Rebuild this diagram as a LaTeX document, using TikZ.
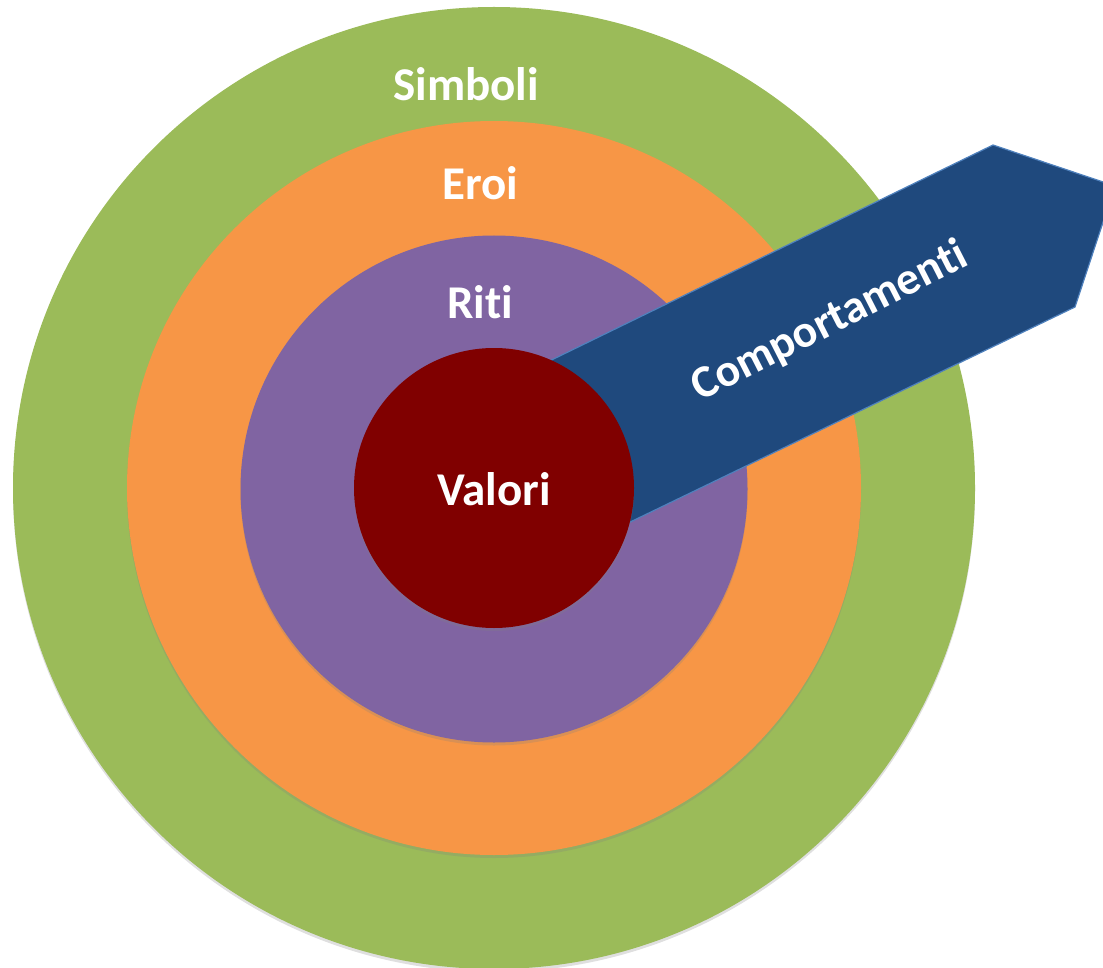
\documentclass[tikz,border=0pt]{standalone}
\usepackage{fontspec}
\setmainfont{Carlito}[Ligatures=NoCommon]
\usetikzlibrary{shadows}
\definecolor{ringgreen}{HTML}{9BBB59}
\definecolor{ringorange}{HTML}{F79646}
\definecolor{ringpurple}{HTML}{8064A2}
\definecolor{corered}{HTML}{800000}
\definecolor{arrowblue}{HTML}{1F497D}
\definecolor{arrowedge}{HTML}{4F81BD}
\tikzset{
  ring/.style={circle, inner sep=0pt, draw=none,
    drop shadow={shadow xshift=0pt, shadow yshift=-3pt, opacity=.25}},
  ringlabel/.style={text=white, font=\bfseries\fontsize{47}{52}\selectfont, inner sep=0pt},
  bandlabel/.style={text=white, font=\bfseries\fontsize{46}{52}\selectfont, inner sep=0pt}
}
\begin{document}
\begin{tikzpicture}[x=1pt,y=-1pt]
  \useasboundingbox (0,0) rectangle (1103,968);
  \begin{scope}
    \clip (0,0) rectangle (1103,968);
    % concentric rings, outermost first
    \node[ring, fill=ringgreen,  minimum size=962pt] (simboli) at (494,488) {};
    \node[ring, fill=ringorange, minimum size=734pt] (eroi)    at (494,488) {};
    \node[ring, fill=ringpurple, minimum size=507pt] (riti)    at (494,489) {};
    % the arrow runs from the core out past the rings
    \coordinate (bt) at (455,407);
    \coordinate (tv) at (993,145);
    \coordinate (tip) at (1115,186);
    \coordinate (bv) at (1075,307);
    \coordinate (bb) at (533,569);
    \draw[fill=arrowblue, draw=arrowedge, line width=1.2pt, line join=miter]
      (bt) -- (tv) -- (tip) -- (bv) -- (bb) -- cycle;
    \node[ring, fill=corered, minimum size=280pt] (valori) at (494,488) {};
  \end{scope}
  % labels
  \node[ringlabel] (lsimboli) at (466,84)  {Simboli};
  \node[ringlabel] (leroi)    at (480,183) {Eroi};
  \node[ringlabel] (lriti)    at (480,302) {Riti};
  \node[ringlabel] (lvalori)  at (494,489) {Valori};
  \node[bandlabel, rotate=27] (lcomp) at (830,322) {Comportamenti};
\end{tikzpicture}
\end{document}
